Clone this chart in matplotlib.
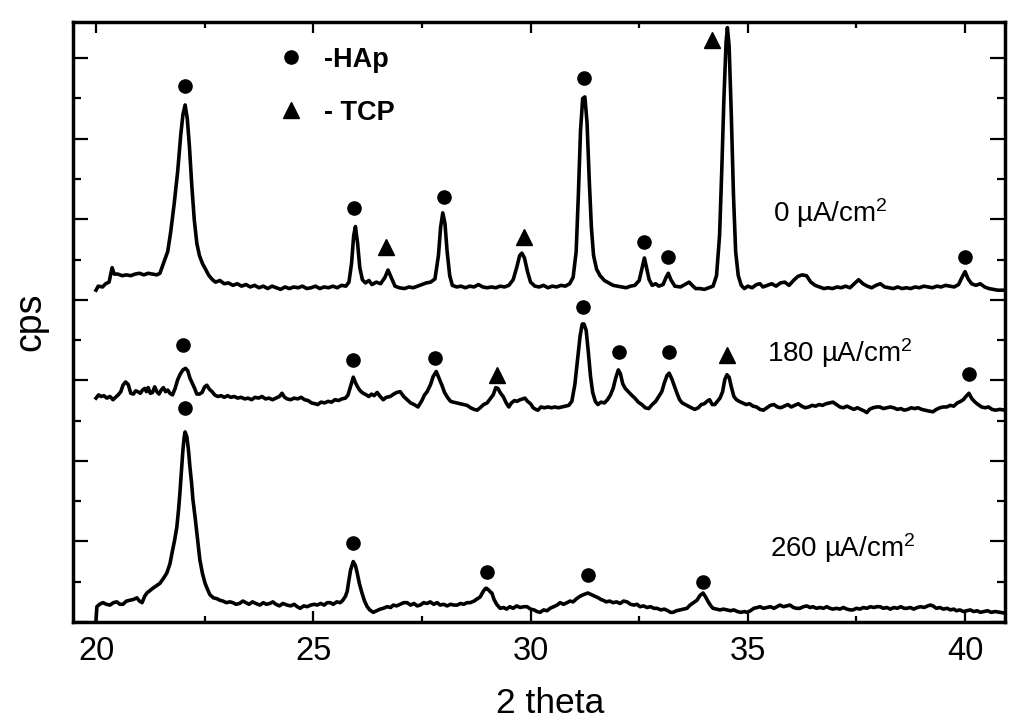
import matplotlib
matplotlib.use("Agg")
import matplotlib.pyplot as plt
from matplotlib.lines import Line2D
from matplotlib.ticker import MultipleLocator
import numpy as np

# 0 uA/cm2 pattern: (2 theta, intensity in tick units)
pattern_0 = [
    (20.00, 4.12), (20.05, 4.17), (20.15, 4.16), (20.22, 4.20), (20.30, 4.22),
    (20.37, 4.40), (20.42, 4.32), (20.50, 4.32), (20.60, 4.30), (20.70, 4.31),
    (20.80, 4.30), (20.90, 4.32), (21.00, 4.33), (21.10, 4.31), (21.20, 4.33),
    (21.30, 4.32), (21.40, 4.31), (21.47, 4.33), (21.55, 4.45), (21.65, 4.60),
    (21.72, 4.85), (21.80, 5.20), (21.88, 5.60), (21.95, 6.05), (22.00, 6.30),
    (22.05, 6.42), (22.10, 6.25), (22.15, 5.90), (22.20, 5.45), (22.26, 5.00),
    (22.32, 4.70), (22.38, 4.55), (22.45, 4.45), (22.52, 4.38), (22.60, 4.30),
    (22.68, 4.25), (22.75, 4.22), (22.85, 4.24), (22.95, 4.20), (23.05, 4.21),
    (23.15, 4.18), (23.25, 4.20), (23.35, 4.17), (23.45, 4.19), (23.55, 4.16),
    (23.65, 4.18), (23.75, 4.15), (23.85, 4.17), (23.95, 4.14), (24.05, 4.17),
    (24.15, 4.15), (24.25, 4.13), (24.35, 4.16), (24.45, 4.14), (24.55, 4.16),
    (24.65, 4.15), (24.75, 4.17), (24.85, 4.14), (24.95, 4.15), (25.05, 4.17),
    (25.15, 4.14), (25.25, 4.16), (25.35, 4.15), (25.45, 4.17), (25.55, 4.15),
    (25.65, 4.18), (25.75, 4.17), (25.82, 4.22), (25.88, 4.45), (25.93, 4.80),
    (25.97, 4.91), (26.02, 4.70), (26.07, 4.40), (26.13, 4.25), (26.20, 4.21),
    (26.28, 4.24), (26.35, 4.19), (26.45, 4.22), (26.55, 4.20), (26.65, 4.28),
    (26.72, 4.37), (26.80, 4.27), (26.88, 4.17), (26.98, 4.15), (27.10, 4.14),
    (27.20, 4.16), (27.30, 4.15), (27.45, 4.18), (27.60, 4.21), (27.70, 4.22),
    (27.80, 4.26), (27.88, 4.55), (27.93, 4.90), (27.98, 5.08), (28.03, 4.95),
    (28.08, 4.60), (28.14, 4.30), (28.20, 4.18), (28.30, 4.16), (28.40, 4.17),
    (28.50, 4.15), (28.60, 4.17), (28.70, 4.16), (28.80, 4.19), (28.90, 4.16),
    (29.00, 4.15), (29.10, 4.16), (29.20, 4.15), (29.30, 4.17), (29.40, 4.16),
    (29.50, 4.18), (29.60, 4.25), (29.68, 4.40), (29.75, 4.55), (29.80, 4.58),
    (29.86, 4.52), (29.93, 4.35), (30.00, 4.22), (30.10, 4.17), (30.20, 4.16),
    (30.30, 4.18), (30.40, 4.15), (30.50, 4.17), (30.60, 4.16), (30.70, 4.18),
    (30.80, 4.17), (30.90, 4.20), (30.98, 4.28), (31.05, 4.60), (31.10, 5.30),
    (31.15, 6.10), (31.20, 6.50), (31.25, 6.52), (31.30, 6.20), (31.35, 5.50),
    (31.40, 4.90), (31.45, 4.55), (31.52, 4.38), (31.60, 4.30), (31.70, 4.24),
    (31.80, 4.21), (31.90, 4.18), (32.00, 4.17), (32.10, 4.16), (32.20, 4.15),
    (32.30, 4.17), (32.40, 4.18), (32.50, 4.24), (32.57, 4.40), (32.62, 4.52),
    (32.67, 4.40), (32.73, 4.25), (32.80, 4.18), (32.88, 4.20), (32.95, 4.17),
    (33.05, 4.19), (33.12, 4.28), (33.17, 4.33), (33.23, 4.25), (33.32, 4.17),
    (33.45, 4.16), (33.55, 4.19), (33.65, 4.22), (33.72, 4.18), (33.80, 4.14),
    (33.90, 4.14), (34.00, 4.13), (34.10, 4.15), (34.20, 4.17), (34.28, 4.30),
    (34.35, 4.80), (34.40, 5.60), (34.45, 6.50), (34.50, 7.20), (34.53, 7.38),
    (34.57, 7.15), (34.62, 6.30), (34.67, 5.30), (34.72, 4.60), (34.78, 4.30),
    (34.85, 4.18), (34.92, 4.14), (35.00, 4.17), (35.10, 4.15), (35.20, 4.19),
    (35.28, 4.20), (35.35, 4.16), (35.45, 4.18), (35.55, 4.20), (35.65, 4.17),
    (35.75, 4.21), (35.85, 4.22), (35.95, 4.18), (36.05, 4.24), (36.15, 4.29),
    (36.25, 4.31), (36.35, 4.30), (36.45, 4.22), (36.55, 4.18), (36.65, 4.16),
    (36.75, 4.14), (36.85, 4.15), (36.95, 4.14), (37.05, 4.16), (37.15, 4.15),
    (37.25, 4.17), (37.35, 4.15), (37.45, 4.20), (37.55, 4.25), (37.65, 4.20),
    (37.75, 4.17), (37.85, 4.15), (37.95, 4.18), (38.05, 4.20), (38.15, 4.16),
    (38.25, 4.15), (38.35, 4.14), (38.45, 4.16), (38.55, 4.14), (38.65, 4.15),
    (38.75, 4.14), (38.85, 4.16), (38.95, 4.15), (39.05, 4.17), (39.15, 4.16),
    (39.25, 4.15), (39.35, 4.17), (39.45, 4.16), (39.55, 4.18), (39.65, 4.17),
    (39.75, 4.16), (39.85, 4.19), (39.93, 4.28), (40.00, 4.35), (40.07, 4.26),
    (40.15, 4.20), (40.25, 4.18), (40.35, 4.20), (40.45, 4.16), (40.55, 4.14),
    (40.65, 4.13), (40.75, 4.12), (40.90, 4.12),
]

# 180 uA/cm2 pattern
pattern_180 = [
    (20.00, 2.78), (20.06, 2.82), (20.12, 2.80), (20.18, 2.81), (20.25, 2.78),
    (20.32, 2.80), (20.39, 2.76), (20.45, 2.79), (20.51, 2.82), (20.57, 2.86),
    (20.62, 2.94), (20.68, 2.98), (20.74, 2.95), (20.80, 2.84), (20.86, 2.83),
    (20.91, 2.87), (20.96, 2.86), (21.02, 2.84), (21.07, 2.88), (21.12, 2.90),
    (21.16, 2.86), (21.20, 2.91), (21.25, 2.84), (21.30, 2.85), (21.35, 2.92),
    (21.40, 2.86), (21.45, 2.83), (21.50, 2.88), (21.55, 2.91), (21.60, 2.86),
    (21.65, 2.88), (21.70, 2.84), (21.76, 2.82), (21.82, 2.90), (21.88, 3.01),
    (21.94, 3.08), (22.00, 3.13), (22.06, 3.15), (22.11, 3.12), (22.16, 3.03),
    (22.21, 2.97), (22.27, 2.90), (22.32, 2.83), (22.38, 2.83), (22.44, 2.85),
    (22.50, 2.92), (22.55, 2.94), (22.61, 2.89), (22.67, 2.86), (22.73, 2.82),
    (22.80, 2.80), (22.88, 2.81), (22.95, 2.79), (23.03, 2.81), (23.10, 2.79),
    (23.18, 2.80), (23.26, 2.78), (23.34, 2.79), (23.42, 2.77), (23.50, 2.78),
    (23.58, 2.76), (23.66, 2.79), (23.74, 2.78), (23.82, 2.80), (23.90, 2.77),
    (23.98, 2.78), (24.06, 2.76), (24.14, 2.78), (24.22, 2.80), (24.28, 2.84),
    (24.34, 2.79), (24.40, 2.77), (24.48, 2.76), (24.56, 2.78), (24.64, 2.77),
    (24.72, 2.79), (24.80, 2.76), (24.88, 2.75), (24.96, 2.72), (25.04, 2.71),
    (25.10, 2.70), (25.18, 2.73), (25.26, 2.72), (25.34, 2.74), (25.42, 2.73),
    (25.50, 2.76), (25.58, 2.75), (25.66, 2.77), (25.74, 2.78), (25.80, 2.82),
    (25.86, 2.93), (25.92, 3.04), (25.98, 2.96), (26.04, 2.90), (26.10, 2.86),
    (26.15, 2.84), (26.22, 2.82), (26.28, 2.80), (26.34, 2.83), (26.40, 2.81),
    (26.47, 2.85), (26.54, 2.80), (26.61, 2.76), (26.68, 2.79), (26.77, 2.80),
    (26.85, 2.83), (26.92, 2.85), (27.00, 2.86), (27.08, 2.80), (27.16, 2.76),
    (27.24, 2.72), (27.32, 2.70), (27.41, 2.67), (27.50, 2.75), (27.56, 2.82),
    (27.62, 2.86), (27.70, 2.95), (27.76, 3.05), (27.83, 3.11), (27.90, 3.02),
    (27.96, 2.94), (28.02, 2.85), (28.10, 2.78), (28.16, 2.74), (28.22, 2.73),
    (28.30, 2.72), (28.38, 2.71), (28.46, 2.70), (28.54, 2.69), (28.62, 2.66),
    (28.70, 2.64), (28.77, 2.63), (28.84, 2.66), (28.92, 2.70), (29.00, 2.72),
    (29.07, 2.77), (29.14, 2.82), (29.20, 2.91), (29.25, 2.90), (29.31, 2.84),
    (29.37, 2.80), (29.44, 2.72), (29.50, 2.67), (29.56, 2.72), (29.63, 2.75),
    (29.69, 2.74), (29.76, 2.76), (29.82, 2.77), (29.87, 2.78), (29.93, 2.74),
    (30.00, 2.71), (30.06, 2.66), (30.12, 2.64), (30.17, 2.63), (30.24, 2.67),
    (30.32, 2.66), (30.40, 2.67), (30.48, 2.66), (30.56, 2.67), (30.64, 2.66),
    (30.72, 2.67), (30.80, 2.68), (30.88, 2.69), (30.95, 2.74), (31.02, 2.95),
    (31.08, 3.25), (31.14, 3.55), (31.19, 3.70), (31.23, 3.70), (31.28, 3.62),
    (31.33, 3.35), (31.38, 3.05), (31.43, 2.85), (31.49, 2.74), (31.55, 2.70),
    (31.62, 2.73), (31.70, 2.72), (31.77, 2.76), (31.84, 2.82), (31.90, 2.90),
    (31.96, 3.03), (32.02, 3.13), (32.07, 3.08), (32.12, 2.96), (32.18, 2.90),
    (32.25, 2.86), (32.32, 2.82), (32.40, 2.78), (32.48, 2.73), (32.56, 2.70),
    (32.64, 2.66), (32.72, 2.65), (32.80, 2.70), (32.88, 2.74), (32.95, 2.80),
    (33.02, 2.86), (33.08, 2.97), (33.14, 3.06), (33.19, 3.09), (33.25, 3.02),
    (33.31, 2.93), (33.37, 2.84), (33.43, 2.76), (33.49, 2.72), (33.56, 2.70),
    (33.63, 2.68), (33.70, 2.66), (33.78, 2.64), (33.86, 2.66), (33.93, 2.70),
    (34.00, 2.71), (34.06, 2.74), (34.12, 2.76), (34.18, 2.70), (34.24, 2.70),
    (34.30, 2.74), (34.36, 2.78), (34.42, 2.86), (34.47, 3.01), (34.52, 3.07),
    (34.57, 3.04), (34.62, 2.92), (34.68, 2.80), (34.74, 2.76), (34.80, 2.74),
    (34.88, 2.72), (34.96, 2.70), (35.04, 2.71), (35.12, 2.68), (35.20, 2.67),
    (35.28, 2.64), (35.36, 2.63), (35.44, 2.66), (35.52, 2.69), (35.60, 2.70),
    (35.68, 2.67), (35.76, 2.66), (35.84, 2.68), (35.92, 2.70), (36.00, 2.67),
    (36.08, 2.69), (36.16, 2.71), (36.24, 2.68), (36.32, 2.66), (36.40, 2.67),
    (36.48, 2.69), (36.56, 2.68), (36.64, 2.70), (36.72, 2.69), (36.80, 2.71),
    (36.88, 2.72), (36.96, 2.73), (37.04, 2.70), (37.12, 2.67), (37.20, 2.66),
    (37.28, 2.68), (37.36, 2.66), (37.44, 2.64), (37.52, 2.66), (37.60, 2.64),
    (37.68, 2.62), (37.74, 2.60), (37.80, 2.64), (37.88, 2.66), (37.96, 2.67),
    (38.04, 2.67), (38.12, 2.65), (38.20, 2.66), (38.28, 2.67), (38.36, 2.66),
    (38.44, 2.64), (38.52, 2.65), (38.60, 2.63), (38.68, 2.64), (38.76, 2.66),
    (38.84, 2.65), (38.92, 2.66), (39.00, 2.64), (39.08, 2.63), (39.16, 2.62),
    (39.26, 2.61), (39.34, 2.64), (39.42, 2.66), (39.50, 2.67), (39.58, 2.67),
    (39.66, 2.69), (39.74, 2.68), (39.82, 2.72), (39.90, 2.74), (39.96, 2.76),
    (40.02, 2.80), (40.09, 2.84), (40.16, 2.77), (40.23, 2.73), (40.30, 2.70),
    (40.38, 2.67), (40.46, 2.66), (40.54, 2.67), (40.62, 2.64), (40.70, 2.63),
    (40.80, 2.64), (40.92, 2.63),
]

# 260 uA/cm2 pattern
pattern_260 = [
    (20.00, 0.02), (20.02, 0.19), (20.08, 0.22), (20.16, 0.24), (20.24, 0.22),
    (20.32, 0.21), (20.40, 0.24), (20.48, 0.25), (20.55, 0.22), (20.62, 0.22),
    (20.70, 0.26), (20.78, 0.27), (20.86, 0.28), (20.94, 0.30), (21.00, 0.26),
    (21.06, 0.24), (21.12, 0.32), (21.17, 0.36), (21.24, 0.39), (21.31, 0.42),
    (21.39, 0.45), (21.47, 0.48), (21.55, 0.54), (21.63, 0.61), (21.70, 0.72),
    (21.75, 0.86), (21.81, 1.02), (21.86, 1.18), (21.90, 1.40), (21.93, 1.60),
    (21.97, 1.90), (22.00, 2.14), (22.03, 2.30), (22.05, 2.36), (22.09, 2.30),
    (22.13, 2.12), (22.16, 1.93), (22.20, 1.72), (22.23, 1.52), (22.28, 1.30),
    (22.32, 1.11), (22.36, 0.92), (22.39, 0.77), (22.45, 0.60), (22.51, 0.48),
    (22.57, 0.40), (22.62, 0.34), (22.70, 0.30), (22.78, 0.29), (22.85, 0.27),
    (22.92, 0.26), (23.00, 0.24), (23.08, 0.25), (23.15, 0.24), (23.22, 0.22),
    (23.30, 0.23), (23.38, 0.26), (23.45, 0.24), (23.52, 0.22), (23.60, 0.25),
    (23.68, 0.23), (23.77, 0.21), (23.85, 0.24), (23.92, 0.22), (24.00, 0.23),
    (24.07, 0.25), (24.14, 0.22), (24.22, 0.20), (24.30, 0.23), (24.40, 0.21),
    (24.48, 0.20), (24.56, 0.22), (24.63, 0.19), (24.70, 0.17), (24.78, 0.20),
    (24.86, 0.19), (24.94, 0.21), (25.02, 0.22), (25.09, 0.21), (25.17, 0.23),
    (25.25, 0.21), (25.32, 0.24), (25.39, 0.24), (25.46, 0.22), (25.54, 0.25),
    (25.62, 0.24), (25.68, 0.27), (25.74, 0.32), (25.78, 0.38), (25.82, 0.52),
    (25.86, 0.65), (25.92, 0.75), (25.97, 0.70), (26.01, 0.61), (26.06, 0.48),
    (26.12, 0.36), (26.18, 0.26), (26.24, 0.19), (26.30, 0.15), (26.38, 0.12),
    (26.46, 0.14), (26.54, 0.16), (26.61, 0.17), (26.70, 0.19), (26.78, 0.18),
    (26.84, 0.21), (26.92, 0.20), (27.00, 0.22), (27.08, 0.24), (27.16, 0.24),
    (27.24, 0.21), (27.32, 0.23), (27.39, 0.20), (27.46, 0.21), (27.54, 0.24),
    (27.62, 0.23), (27.69, 0.25), (27.77, 0.22), (27.85, 0.24), (27.92, 0.21),
    (28.00, 0.22), (28.08, 0.20), (28.16, 0.22), (28.24, 0.21), (28.31, 0.21),
    (28.39, 0.23), (28.46, 0.22), (28.54, 0.24), (28.61, 0.24), (28.70, 0.26),
    (28.78, 0.29), (28.84, 0.31), (28.90, 0.37), (28.95, 0.41), (28.98, 0.42),
    (29.03, 0.40), (29.08, 0.37), (29.11, 0.36), (29.16, 0.28), (29.22, 0.22),
    (29.30, 0.17), (29.38, 0.18), (29.45, 0.16), (29.52, 0.19), (29.60, 0.17),
    (29.68, 0.20), (29.76, 0.18), (29.84, 0.19), (29.92, 0.19), (30.00, 0.16),
    (30.08, 0.15), (30.15, 0.13), (30.22, 0.12), (30.30, 0.15), (30.38, 0.14),
    (30.45, 0.17), (30.53, 0.19), (30.61, 0.21), (30.68, 0.24), (30.76, 0.22),
    (30.84, 0.24), (30.91, 0.26), (30.98, 0.25), (31.06, 0.29), (31.14, 0.32),
    (31.22, 0.34), (31.32, 0.36), (31.40, 0.34), (31.48, 0.32), (31.56, 0.30),
    (31.62, 0.28), (31.67, 0.27), (31.74, 0.25), (31.82, 0.26), (31.90, 0.24),
    (31.98, 0.25), (32.06, 0.23), (32.14, 0.26), (32.22, 0.25), (32.30, 0.22),
    (32.38, 0.21), (32.45, 0.22), (32.52, 0.19), (32.60, 0.20), (32.68, 0.18),
    (32.76, 0.19), (32.84, 0.17), (32.91, 0.17), (33.00, 0.15), (33.08, 0.16),
    (33.16, 0.14), (33.22, 0.12), (33.28, 0.12), (33.36, 0.14), (33.44, 0.15),
    (33.52, 0.16), (33.60, 0.17), (33.67, 0.21), (33.75, 0.24), (33.83, 0.27),
    (33.90, 0.33), (33.97, 0.36), (34.03, 0.31), (34.09, 0.25), (34.15, 0.20),
    (34.20, 0.17), (34.28, 0.16), (34.36, 0.15), (34.44, 0.16), (34.52, 0.15),
    (34.60, 0.14), (34.68, 0.15), (34.76, 0.13), (34.84, 0.12), (34.92, 0.13),
    (34.98, 0.12), (35.06, 0.14), (35.14, 0.17), (35.22, 0.18), (35.28, 0.19),
    (35.36, 0.17), (35.44, 0.18), (35.52, 0.19), (35.60, 0.17), (35.67, 0.19),
    (35.74, 0.21), (35.82, 0.19), (35.90, 0.20), (35.97, 0.21), (36.05, 0.18),
    (36.12, 0.17), (36.20, 0.17), (36.28, 0.19), (36.36, 0.20), (36.43, 0.18),
    (36.50, 0.19), (36.58, 0.17), (36.66, 0.18), (36.74, 0.17), (36.82, 0.19),
    (36.89, 0.17), (36.96, 0.16), (37.04, 0.17), (37.12, 0.16), (37.20, 0.18),
    (37.28, 0.16), (37.36, 0.15), (37.42, 0.15), (37.50, 0.17), (37.58, 0.16),
    (37.66, 0.18), (37.74, 0.17), (37.82, 0.19), (37.90, 0.18), (37.97, 0.19),
    (38.04, 0.19), (38.12, 0.17), (38.20, 0.18), (38.28, 0.16), (38.36, 0.18),
    (38.44, 0.17), (38.52, 0.19), (38.60, 0.17), (38.66, 0.17), (38.74, 0.18),
    (38.82, 0.16), (38.90, 0.18), (38.98, 0.19), (39.06, 0.18), (39.14, 0.20),
    (39.20, 0.21), (39.26, 0.20), (39.34, 0.17), (39.42, 0.18), (39.50, 0.16),
    (39.59, 0.17), (39.66, 0.15), (39.74, 0.16), (39.80, 0.14), (39.88, 0.15),
    (39.96, 0.13), (40.04, 0.14), (40.12, 0.15), (40.20, 0.13), (40.28, 0.14),
    (40.35, 0.12), (40.44, 0.13), (40.52, 0.14), (40.60, 0.12), (40.70, 0.13),
    (40.80, 0.12), (40.92, 0.11),
]

# phase markers above the peaks
hap_theta = [22.05, 25.93, 28.00, 31.23, 32.61, 33.16, 40.00,
             22.00, 25.92, 27.80, 31.21, 32.04, 33.19, 40.09,
             22.05, 25.92, 29.00, 31.32, 33.97]
hap_cps = [6.66, 5.14, 5.28, 6.75, 4.72, 4.53, 4.53,
           3.44, 3.25, 3.28, 3.91, 3.35, 3.35, 3.08,
           2.66, 0.98, 0.62, 0.58, 0.50]
tcp_theta = [26.68, 29.84, 34.18, 29.23, 34.52]
tcp_cps = [4.66, 4.78, 7.23, 3.07, 3.32]

series_labels = ["0 µA/cm$^2$", "180 µA/cm$^2$", "260 µA/cm$^2$"]
label_theta = [35.58, 35.44, 35.51]
label_cps = [5.08, 3.34, 0.92]

plt.rcParams["font.family"] = ["Liberation Sans", "DejaVu Sans"]
plt.rcParams["mathtext.fontset"] = "custom"
plt.rcParams["mathtext.rm"] = "Liberation Sans"
plt.rcParams["mathtext.it"] = "Liberation Sans"

fig = plt.figure(figsize=(10.34, 7.28), dpi=100)
ax = fig.add_axes([0.0706, 0.1456, 0.9014, 0.8242])

# diffraction patterns
for pattern in (pattern_0, pattern_180, pattern_260):
    th, c = np.array(pattern).T
    ax.plot(th, c, color="black", lw=2.6, solid_joinstyle="round")

ax.plot(hap_theta, hap_cps, ls="none", marker="o", ms=9.5, color="black")
ax.plot(tcp_theta, tcp_cps, ls="none", marker="^", ms=12, color="black")

for lab, x, y in zip(series_labels, label_theta, label_cps):
    ax.text(x, y, lab, fontsize=20, ha="left", va="center")

handles = [Line2D([], [], ls="none", marker="o", ms=9.5, color="black"),
           Line2D([], [], ls="none", marker="^", ms=12, color="black")]
ax.legend(handles, ["-HAp", "- TCP"], loc="center", bbox_to_anchor=(0.282, 0.893),
          frameon=False, handlelength=1.0, handletextpad=0.7, labelspacing=1.0,
          prop={"size": 19.5, "weight": "bold"})

ax.set_xlim(19.47, 40.92)
ax.set_ylim(0, 7.45)
ax.xaxis.set_major_locator(MultipleLocator(5))
ax.xaxis.set_minor_locator(MultipleLocator(2.5))
ax.yaxis.set_major_locator(MultipleLocator(1))
ax.yaxis.set_minor_locator(MultipleLocator(0.5))
ax.tick_params(which="both", direction="in", top=True, right=True, width=1.6)
ax.tick_params(axis="x", which="major", length=8, labelsize=23.5, pad=10)
ax.tick_params(axis="x", which="minor", length=4.5)
ax.tick_params(axis="y", which="major", length=11, labelleft=False)
ax.tick_params(axis="y", which="minor", length=6)
for sp in ax.spines.values():
    sp.set_linewidth(2.5)

ax.set_xlabel("2 theta", fontsize=25.5)
ax.xaxis.set_label_coords(0.512, -0.108)
ax.set_ylabel("cps", fontsize=27, labelpad=14)

fig.savefig("out.png", dpi=100)
